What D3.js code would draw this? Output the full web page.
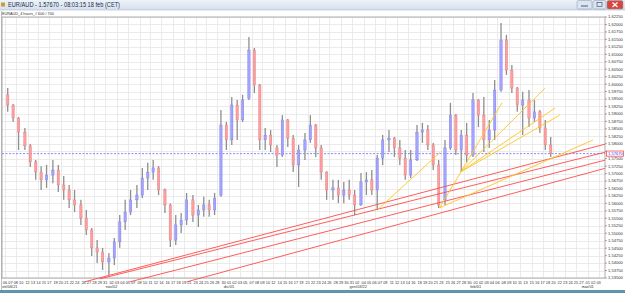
<!DOCTYPE html>
<html><head><meta charset="utf-8">
<script src="https://cdn.jsdelivr.net/npm/d3@7"></script>
<style>html,body{margin:0;padding:0;background:#fff;overflow:hidden}svg{display:block}</style>
</head><body>
<svg id="c" width="625" height="293"></svg>
<script>
// ---------------- DATA ----------------
const titleText = "EUR/AUD - 1.57670 - 08:03:15  18 feb (CET)";
const subtitleText = "EURAUD_4 hours_# 600 / 700";
const lastPrice = 1.5767;

const dates = ["2021-10-06","2021-10-07","2021-10-08","2021-10-11","2021-10-12","2021-10-13","2021-10-14","2021-10-15","2021-10-18","2021-10-19","2021-10-20","2021-10-21","2021-10-22","2021-10-25","2021-10-26","2021-10-27","2021-10-28","2021-10-29",
"2021-11-01","2021-11-02","2021-11-03","2021-11-04","2021-11-05","2021-11-08","2021-11-09","2021-11-10","2021-11-11","2021-11-12","2021-11-15","2021-11-16","2021-11-17","2021-11-18","2021-11-19","2021-11-22","2021-11-23","2021-11-24","2021-11-25","2021-11-26","2021-11-29","2021-11-30",
"2021-12-01","2021-12-02","2021-12-03","2021-12-06","2021-12-07","2021-12-08","2021-12-09","2021-12-10","2021-12-13","2021-12-14","2021-12-15","2021-12-16","2021-12-17","2021-12-20","2021-12-21","2021-12-22","2021-12-23","2021-12-24","2021-12-27","2021-12-28","2021-12-29","2021-12-30","2021-12-31",
"2022-01-03","2022-01-04","2022-01-05","2022-01-06","2022-01-07","2022-01-10","2022-01-11","2022-01-12","2022-01-13","2022-01-14","2022-01-17","2022-01-18","2022-01-19","2022-01-20","2022-01-21","2022-01-24","2022-01-25","2022-01-26","2022-01-27","2022-01-28","2022-01-31",
"2022-02-01","2022-02-02","2022-02-03","2022-02-04","2022-02-07","2022-02-08","2022-02-09","2022-02-10","2022-02-11","2022-02-14","2022-02-15","2022-02-16","2022-02-17","2022-02-18"];

const open = [1.5964,1.5930,1.5886,1.5839,1.5793,1.5739,1.5705,1.5679,1.5695,1.5712,1.5662,1.5645,1.5612,1.5595,1.5551,1.5511,1.5451,1.5437,
1.5404,1.5417,1.5471,1.5538,1.5571,1.5612,1.5628,1.5685,1.5705,1.5719,1.5645,1.5595,1.5477,1.5528,1.5544,1.5612,1.5561,1.5578,1.5595,1.5578,1.5628,1.5863,
1.5813,1.5930,1.5880,1.5953,1.6114,1.5997,1.5813,1.5829,1.5786,1.5762,1.5880,1.5819,1.5729,1.5779,1.5813,1.5863,1.5786,1.5705,1.5645,1.5652,1.5628,1.5645,1.5628,
1.5595,1.5672,1.5679,1.5645,1.5752,1.5813,1.5819,1.5786,1.5752,1.5695,1.5746,1.5839,1.5846,1.5796,1.5729,1.5612,1.5786,1.5896,1.5779,1.5829,1.5762,
1.5947,1.5896,1.5813,1.5846,1.5980,1.6148,1.6047,1.5987,1.5930,1.5947,1.5886,1.5907,1.5853,1.5796];

const high = [1.5987,1.5933,1.5890,1.5853,1.5799,1.5746,1.5725,1.5729,1.5746,1.5729,1.5692,1.5662,1.5645,1.5612,1.5578,1.5518,1.5477,1.5451,
1.5434,1.5484,1.5561,1.5612,1.5645,1.5662,1.5719,1.5736,1.5746,1.5725,1.5650,1.5600,1.5561,1.5568,1.5635,1.5628,1.5595,1.5622,1.5612,1.5635,1.5913,1.5873,
1.5957,1.5947,1.5964,1.6158,1.6121,1.6000,1.5853,1.5846,1.5796,1.5896,1.5883,1.5829,1.5796,1.5836,1.5896,1.5866,1.5796,1.5708,1.5679,1.5679,1.5672,1.5679,1.5645,
1.5702,1.5705,1.5712,1.5762,1.5829,1.5846,1.5823,1.5813,1.5779,1.5779,1.5863,1.5870,1.5863,1.5803,1.5746,1.5813,1.5937,1.5900,1.5846,1.5870,1.5970,
1.5950,1.5957,1.5880,1.6014,1.6205,1.6165,1.6064,1.5990,1.5974,1.5980,1.5947,1.5913,1.5880,1.5823];

const low = [1.5907,1.5873,1.5779,1.5779,1.5722,1.5679,1.5645,1.5652,1.5668,1.5638,1.5612,1.5585,1.5571,1.5528,1.5494,1.5424,1.5400,1.5377,
1.5360,1.5394,1.5451,1.5511,1.5561,1.5585,1.5618,1.5645,1.5679,1.5628,1.5568,1.5454,1.5461,1.5501,1.5528,1.5538,1.5521,1.5555,1.5555,1.5561,1.5622,1.5779,
1.5796,1.5813,1.5873,1.5947,1.5970,1.5779,1.5779,1.5772,1.5722,1.5756,1.5789,1.5705,1.5655,1.5746,1.5803,1.5756,1.5679,1.5612,1.5612,1.5601,1.5601,1.5612,1.5561,
1.5592,1.5628,1.5628,1.5578,1.5729,1.5772,1.5756,1.5729,1.5679,1.5685,1.5742,1.5803,1.5779,1.5712,1.5585,1.5595,1.5779,1.5762,1.5705,1.5736,1.5756,
1.5856,1.5772,1.5786,1.5813,1.5974,1.6031,1.5970,1.5907,1.5829,1.5856,1.5873,1.5836,1.5779,1.5756];

const close = [1.5930,1.5886,1.5839,1.5793,1.5739,1.5705,1.5679,1.5695,1.5712,1.5662,1.5645,1.5612,1.5595,1.5551,1.5511,1.5451,1.5437,1.5404,
1.5417,1.5471,1.5538,1.5571,1.5612,1.5628,1.5685,1.5705,1.5719,1.5645,1.5595,1.5477,1.5528,1.5544,1.5612,1.5561,1.5578,1.5595,1.5578,1.5618,1.5863,1.5813,
1.5930,1.5880,1.5947,1.6114,1.5997,1.5813,1.5829,1.5796,1.5762,1.5880,1.5819,1.5729,1.5779,1.5813,1.5863,1.5786,1.5705,1.5645,1.5652,1.5628,1.5645,1.5628,1.5595,
1.5672,1.5679,1.5645,1.5752,1.5813,1.5819,1.5786,1.5752,1.5695,1.5746,1.5839,1.5846,1.5796,1.5729,1.5595,1.5786,1.5896,1.5779,1.5829,1.5762,1.5947,
1.5896,1.5813,1.5846,1.5980,1.6148,1.6047,1.5987,1.5930,1.5947,1.5886,1.5907,1.5853,1.5796,1.5767];

const yTicks = [1.5350,1.5375,1.5400,1.5425,1.5450,1.5475,1.5500,1.5525,1.5550,1.5575,1.5600,1.5625,1.5650,1.5675,1.5700,1.5725,1.5750,1.5775,1.5800,1.5825,1.5850,1.5875,1.5900,1.5925,1.5950,1.5975,1.6000,1.6025,1.6050,1.6075,1.6100,1.6125,1.6150,1.6175,1.6200,1.6225];

const axisStart = "2021-10-06", axisEnd = "2022-03-04";
const monthLabels = ["ott/06/21","nov/02","dic/01","gen/03/22","feb/01","mar/01"];
const monthDates  = ["2021-10-06","2021-11-02","2021-12-01","2022-01-03","2022-02-01","2022-03-01"];

// trend lines: [start time, start price, through time, through price]; extended to the right edge
const redLines = [
  ["2021-10-26T04:00",1.5337,"2022-02-01T00:00",1.5684],
  ["2021-10-29T00:00",1.5347,"2022-02-01T00:00",1.5663],
  ["2021-11-05T08:00",1.5337,"2022-02-01T00:00",1.5634],
  ["2021-11-19T12:00",1.5337,"2022-02-01T00:00",1.5600]
];
// yellow: [start time, start price, end time, end price]
const yellowLines = [
  ["2022-01-06T12:00",1.5578,"2022-01-21T20:00",1.5772],
  ["2022-01-21T16:00",1.5585,"2022-02-07T16:00",1.5937],
  ["2022-01-27T08:00",1.5705,"2022-02-17T12:00",1.5987],
  ["2022-01-27T08:00",1.5705,"2022-02-21T04:00",1.5920],
  ["2022-01-27T08:00",1.5705,"2022-02-22T00:00",1.5896],
  ["2022-01-21T16:00",1.5585,"2022-03-02T00:00",1.5813]
];

// ---------------- LAYOUT ----------------
const plot = {l:2, r:605, t:17, b:278};
const DAY = 86400000;
const t0 = Date.parse(axisStart+"T00:00Z");
function barsIn(ms){const w=new Date(ms).getUTCDay();return w===6?0:(w===0?1:6);}
function idxOf(str){
  const ms = Date.parse(str + (str.length===10?"T00:00Z":"Z"));
  let idx=0, d=t0;
  while(d+DAY<=ms){idx+=barsIn(d); d+=DAY;}
  const h=(ms-d)/3600000, n=barsIn(d);
  if(n===6) idx+=h/4; else if(n===1) idx+=Math.max(0,(h-20)/4);
  return idx;
}
const x = d3.scaleLinear().domain([0, idxOf(axisEnd)]).range([5, 604]);
const y = d3.scaleLinear().domain([1.535, 1.6225]).range([278, 17]);
const fmt = v => d3.format(".5f")(v).replace(".", ",");

const svg = d3.select("#c");
const FONT = "Liberation Sans, Arial, sans-serif";

svg.append("rect").attr("width",625).attr("height",293).attr("fill","#ffffff");

const defs = svg.append("defs");
const g1 = defs.append("linearGradient").attr("id","tb").attr("x1",0).attr("y1",0).attr("x2",0).attr("y2",1);
g1.append("stop").attr("offset","0").attr("stop-color","#eef3f9");
g1.append("stop").attr("offset","1").attr("stop-color","#d5e0ee");
svg.append("rect").attr("x",0).attr("y",0).attr("width",625).attr("height",10).attr("fill","url(#tb)");
svg.append("line").attr("x1",0).attr("x2",625).attr("y1",10).attr("y2",10).attr("stroke","#a9b8cc").attr("stroke-width",0.6);
svg.append("rect").attr("x",1).attr("y",2.5).attr("width",4).attr("height",4).attr("fill","#c8a030");
svg.append("text").attr("x",8).attr("y",7.4).attr("font-family",FONT).attr("font-size",6.4)
  .attr("textLength",112).attr("lengthAdjust","spacingAndGlyphs")
  .attr("fill","#1b2b45").text(titleText);
const btns = [{x:577,w:15,c:"#dbe5f1"},{x:593,w:13,c:"#dbe5f1"},{x:607,w:16,c:"#d9473c"}];
btns.forEach(b=>svg.append("rect").attr("x",b.x).attr("y",0.5).attr("width",b.w).attr("height",8.5).attr("rx",1.5)
  .attr("fill",b.c).attr("stroke","#8796ad").attr("stroke-width",0.5));
svg.append("line").attr("x1",581).attr("x2",588).attr("y1",6).attr("y2",6).attr("stroke","#4a5a70").attr("stroke-width",1);
svg.append("rect").attr("x",597).attr("y",2.5).attr("width",5).attr("height",4).attr("fill","none").attr("stroke","#4a5a70").attr("stroke-width",0.7);
svg.append("path").attr("d","M612.5,2.5L617.5,7M617.5,2.5L612.5,7").attr("stroke","#fff").attr("stroke-width",1.2);

svg.append("text").attr("x",2).attr("y",15.3).attr("font-family",FONT).attr("font-size",3.8).attr("fill","#333").text(subtitleText);

const gGrid = svg.append("g");
yTicks.forEach(v=>gGrid.append("line").attr("x1",plot.l).attr("x2",plot.r).attr("y1",Math.round(y(v))+0.5).attr("y2",Math.round(y(v))+0.5)
  .attr("stroke","#e6e6e6").attr("stroke-width",0.8));

const dayTicks = [];
{
  let last=-99;
  for(let d=t0; d<=Date.parse(axisEnd+"T00:00Z")-DAY; d+=DAY){
    if(new Date(d).getUTCDay()===6) continue;
    const s = new Date(d).toISOString().slice(0,10);
    const px = x(idxOf(s));
    if(px-last>=5){ dayTicks.push({s,px,lab:s.slice(8,10)}); last=px; }
  }
}
dayTicks.forEach((t,i)=>{
  if(i%2===0) gGrid.append("line").attr("x1",Math.round(t.px)+0.5).attr("x2",Math.round(t.px)+0.5).attr("y1",plot.t).attr("y2",plot.b)
    .attr("stroke","#e6e6e6").attr("stroke-width",0.8);
});
const gX = svg.append("g").attr("font-family",FONT).attr("font-size",3.9).attr("fill","#333").attr("text-anchor","middle");
dayTicks.forEach(t=>gX.append("text").attr("x",t.px).attr("y",283.6).text(t.lab));
monthLabels.forEach((m,i)=>{
  const px = x(idxOf(monthDates[i]));
  gX.append("text").attr("x",Math.max(px,m.length*1.1)).attr("y",288).text(m);
});

svg.append("rect").attr("x",plot.l).attr("y",plot.t).attr("width",plot.r-plot.l).attr("height",plot.b-plot.t)
  .attr("fill","none").attr("stroke","#9a9a9a").attr("stroke-width",0.8);

svg.append("line").attr("x1",plot.l).attr("x2",plot.r).attr("y1",y(lastPrice)).attr("y2",y(lastPrice))
  .attr("stroke","#6b6bff").attr("stroke-width",0.8).attr("stroke-dasharray","2,1.5");

const gC = svg.append("g");
dates.forEach((d,i)=>{
  const cx = x(idxOf(d)+3);
  gC.append("line").attr("x1",cx).attr("x2",cx).attr("y1",y(high[i])).attr("y2",y(low[i]))
    .attr("stroke","#8e8e8e").attr("stroke-width",1.3);
  const up = close[i]>=open[i];
  const top = y(Math.max(open[i],close[i])), bot = y(Math.min(open[i],close[i]));
  gC.append("rect").attr("x",cx-1.2).attr("y",top).attr("width",2.4).attr("height",Math.max(0.8,bot-top))
    .attr("fill", up?"#a3a3ff":"#ff9e9e").attr("stroke",up?"#8080e0":"#dd8080").attr("stroke-width",0.4);
});

const gL = svg.append("g").attr("fill","none");
redLines.forEach(l=>{
  const x1=x(idxOf(l[0])), y1=y(l[1]), x2=x(idxOf(l[2])), y2=y(l[3]);
  const s=(y2-y1)/(x2-x1);
  gL.append("line").attr("x1",x1).attr("y1",y1).attr("x2",plot.r).attr("y2",y1+s*(plot.r-x1))
    .attr("stroke","#ff4b4b").attr("stroke-width",0.9);
});
yellowLines.forEach(l=>{
  gL.append("line").attr("x1",x(idxOf(l[0]))).attr("y1",y(l[1])).attr("x2",x(idxOf(l[2]))).attr("y2",y(l[3]))
    .attr("stroke","#ffc41f").attr("stroke-width",0.9);
});

const yl = y(lastPrice);
const gY = svg.append("g").attr("font-family",FONT).attr("font-size",4.1).attr("fill","#333");
yTicks.forEach(v=>{
  gY.append("line").attr("x1",plot.r).attr("x2",plot.r+2).attr("y1",y(v)).attr("y2",y(v)).attr("stroke","#b05050").attr("stroke-width",0.6);
  if (Math.abs(y(v)-yl) > 4.5) gY.append("text").attr("x",plot.r+3).attr("y",y(v)+1.4).text(fmt(v));
});
svg.append("rect").attr("x",plot.r+1.5).attr("y",yl-2.6).attr("width",17).attr("height",5.2).attr("fill","#fff")
  .attr("stroke","#ff4b4b").attr("stroke-width",0.8);
svg.append("text").attr("x",plot.r+3).attr("y",yl+1.5).attr("font-family",FONT).attr("font-size",4.1).attr("fill","#3a3aff").text(fmt(lastPrice));

svg.append("rect").attr("x",0).attr("y",290).attr("width",625).attr("height",3).attr("fill","#5f96a8");
svg.append("line").attr("x1",1.5).attr("x2",1.5).attr("y1",11).attr("y2",290).attr("stroke","#9a9a9a").attr("stroke-width",0.6);
</script>
</body></html>
